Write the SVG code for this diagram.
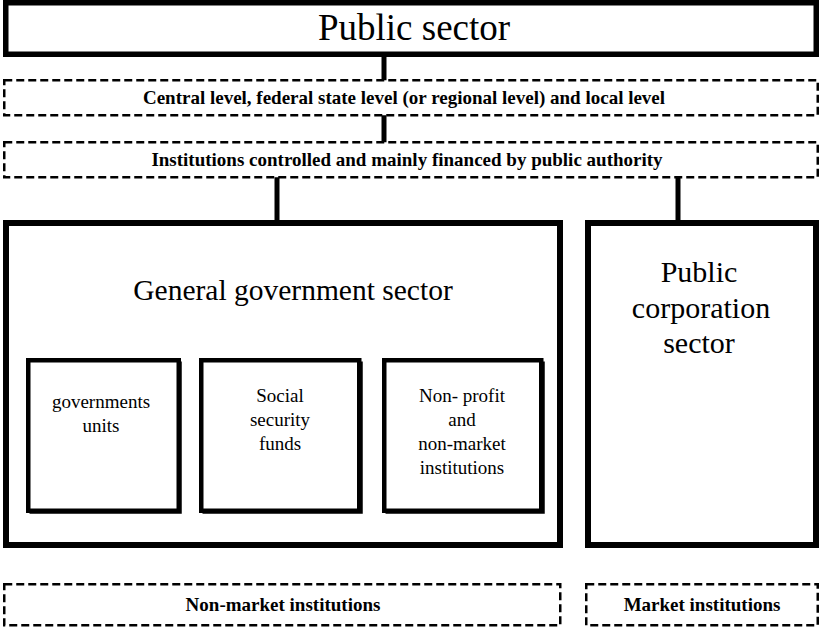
<svg xmlns="http://www.w3.org/2000/svg" width="819" height="627" viewBox="0 0 819 627">
  <style>
    .solid { fill: #fff; stroke: #000; }
    .dash { fill: #fff; stroke: #000; stroke-width: 2.5; stroke-dasharray: 8 4; }
    .link { stroke: #000; stroke-width: 5; fill: none; }
    .shadow { stroke: #000; stroke-width: 4.5; fill: none; }
    .t { font-family: "Liberation Serif", "Times New Roman", serif; fill: #000; text-anchor: middle; }
    .b { font-weight: bold; font-size: 19px; }
    .sm { font-size: 19px; }
  </style>

  <!-- connectors between the levels -->
  <g id="connectors">
    <line class="link" x1="384" y1="55" x2="384" y2="81" stroke-width="5.5"/>
    <line class="link" x1="384" y1="115" x2="384" y2="143" stroke-width="5.5"/>
    <line class="link" x1="277" y1="177" x2="277" y2="222"/>
    <line class="link" x1="678" y1="177" x2="678" y2="222"/>
  </g>

  <g id="public-sector">
    <rect class="solid" x="5.75" y="2.75" width="810.5" height="51.5" stroke-width="5.5"/>
    <text class="t" x="414" y="40" font-size="37">Public sector</text>
  </g>

  <g id="levels">
    <rect class="dash" x="4.25" y="80.25" width="813.5" height="35"/>
    <text class="t b" x="404" y="104">Central level, federal state level (or regional level) and local level</text>
  </g>

  <g id="controlled">
    <rect class="dash" x="4.25" y="142.25" width="813.5" height="35"/>
    <text class="t b" x="407" y="166">Institutions controlled and mainly financed by public authority</text>
  </g>

  <g id="general-government">
    <rect class="solid" x="6" y="223" width="554" height="322" stroke-width="6"/>
    <text class="t" x="293" y="300" font-size="29.5">General government sector</text>
  </g>

  <g id="public-corporation">
    <rect class="solid" x="588" y="223" width="228" height="322" stroke-width="6"/>
    <text class="t" x="699" y="282" font-size="30">Public</text>
    <text class="t" x="701" y="318" font-size="30">corporation</text>
    <text class="t" x="699" y="353" font-size="30">sector</text>
  </g>

  <g id="government-units">
    <polyline class="shadow" points="179.5,361.5 179.5,511.5 29.5,511.5"/>
    <rect class="solid" x="28.25" y="360.25" width="150.5" height="150.5" stroke-width="4.5"/>
    <text class="t sm" x="101" y="408">governments</text>
    <text class="t sm" x="101" y="432">units</text>
  </g>

  <g id="social-security">
    <polyline class="shadow" points="360.5,361.5 360.5,511.5 202.5,511.5"/>
    <rect class="solid" x="201.25" y="360.25" width="158" height="150.5" stroke-width="4.5"/>
    <text class="t sm" x="280" y="402">Social</text>
    <text class="t sm" x="280" y="426">security</text>
    <text class="t sm" x="280" y="450">funds</text>
  </g>

  <g id="non-profit">
    <polyline class="shadow" points="542.5,361.5 542.5,511.5 385.5,511.5"/>
    <rect class="solid" x="384.25" y="360.25" width="157" height="150.5" stroke-width="4.5"/>
    <text class="t sm" x="462" y="402">Non- profit</text>
    <text class="t sm" x="462" y="426">and</text>
    <text class="t sm" x="462" y="450">non-market</text>
    <text class="t sm" x="462" y="474">institutions</text>
  </g>

  <g id="non-market">
    <rect class="dash" x="4.25" y="584.25" width="556" height="41"/>
    <text class="t b" x="283" y="611">Non-market institutions</text>
  </g>

  <g id="market">
    <rect class="dash" x="586.25" y="584.25" width="231.5" height="41"/>
    <text class="t b" x="702" y="611">Market institutions</text>
  </g>
</svg>
